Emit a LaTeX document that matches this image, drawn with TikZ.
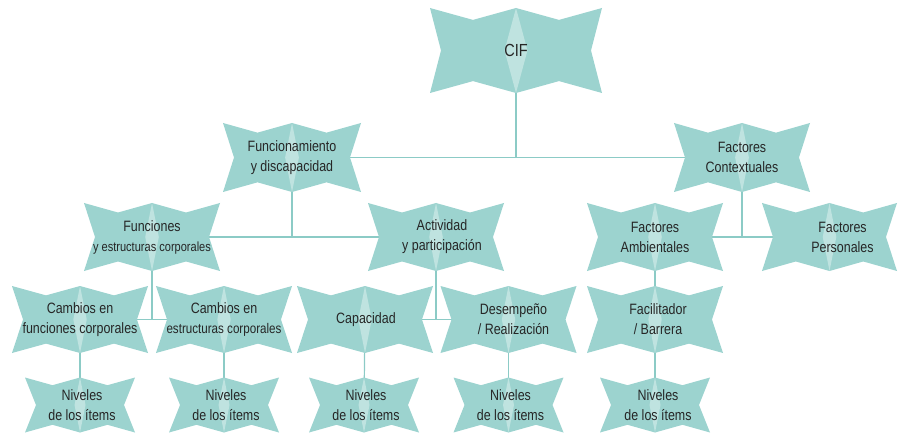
\documentclass[tikz,border=0pt]{standalone}
\usepackage{fontspec}
\setmainfont[FakeStretch=0.83]{Liberation Sans}
\usetikzlibrary{calc,backgrounds}
\definecolor{tealfill}{HTML}{9CD3CF}
\definecolor{tealdia}{HTML}{BFE3E0}
\definecolor{tealline}{HTML}{8CCBC6}
\definecolor{txtgray}{HTML}{262626}
\tikzset{
  boxn/.style={inner sep=0pt, draw=none, fill=none},
  lbl/.style={inner sep=0pt, align=center, text=txtgray, font=\fontsize{15}{20}\selectfont},
  conn/.style={draw=tealline, line width=1.2pt},
}
\newcommand\bowshape[7]{%
  \pgfmathsetmacro\bL{#2-#4/2}\pgfmathsetmacro\bR{#2+#4/2}%
  \pgfmathsetmacro\bT{#3-#5/2}\pgfmathsetmacro\bB{#3+#5/2}%
  \pgfmathsetmacro\bQl{#2-#4/4}\pgfmathsetmacro\bQr{#2+#4/4}%
  \pgfmathsetmacro\bD{0.14*#5}%
  \pgfmathsetmacro\bA{#5>80 ? 0.135*#5 : 0.1*#5}%
  \fill[tealfill] (\bL,\bT) -- (\bQl,\bT+\bD) -- (#2,\bT) -- (\bQr,\bT+\bD) -- (\bR,\bT)
    -- (\bR-11,#3) -- (\bR,\bB) -- (\bQr,\bB-\bD) -- (#2,\bB) -- (\bQl,\bB-\bD)
    -- (\bL,\bB) -- (\bL+11,#3) -- cycle;
  \fill[tealdia] (#2,\bT) -- (#2+\bA,#3) -- (#2,\bB) -- (#2-\bA,#3) -- cycle;
  \node[boxn, minimum width=#4pt, minimum height=#5pt] (#1) at (#2,#3) {};
  \node[lbl] (#1-t) at ([xshift=#6pt]#1.center) {#7};
}
\begin{document}
\begin{tikzpicture}[x=1pt,y=-1pt]
\useasboundingbox (0,0) rectangle (906,433);
% level 1
\bowshape{cif}{516}{50.5}{172}{85}{0}{{\fontsize{17.5}{20}\selectfont CIF}}
% level 2
\bowshape{fun}{292}{157.5}{138}{69}{0}{Funcionamiento\\y discapacidad}
\bowshape{fc}{742}{157.5}{136}{69}{0}{Factores\\Contextuales}
% level 3
\bowshape{fe}{152}{237}{136}{68}{0}{Funciones\\{\fontsize{13.3}{17}\selectfont y estructuras corporales}}
\bowshape{act}{436}{237}{136}{68}{6}{Actividad\\y participación}
\bowshape{amb}{655}{237}{136}{68}{0}{Factores\\Ambientales}
\bowshape{per}{829.5}{237}{135}{68}{13}{Factores\\Personales}
% level 4
\bowshape{cf}{80}{319.5}{136}{67}{0}{Cambios en\\funciones corporales}
\bowshape{ce}{224}{319.5}{136}{67}{0}{Cambios en\\{\fontsize{14}{20}\selectfont estructuras corporales}}
\bowshape{cap}{365}{319.5}{136}{67}{1}{Capacidad}
\bowshape{des}{508.5}{319.5}{136}{67}{5}{Desempeño\\/ Realización}
\bowshape{fac}{655}{319.5}{136}{67}{3}{Facilitador\\/ Barrera}
% level 5
\bowshape{n1}{80}{405}{110}{55}{2}{Niveles\\de los ítems}
\bowshape{n2}{224}{405}{110}{55}{2}{Niveles\\de los ítems}
\bowshape{n3}{364}{405}{110}{55}{2}{Niveles\\de los ítems}
\bowshape{n4}{508.5}{405}{110}{55}{2}{Niveles\\de los ítems}
\bowshape{n5}{655}{405}{110}{55}{3}{Niveles\\de los ítems}
% connectors
\begin{pgfonlayer}{background}
\draw[conn] (cif.center) -- (cif.center |- fun.center);
\draw[conn] (fun.center) -- (fc.center);
\draw[conn] (fun.center) -- (fun.center |- fe.center);
\draw[conn] (fe.center) -- (act.center);
\draw[conn] (fc.center) -- (fc.center |- amb.center);
\draw[conn] (amb.center) -- (per.center);
\draw[conn] (fe.center) -- (fe.center |- cf.center);
\draw[conn] (cf.center) -- (ce.center);
\draw[conn] (act.center) -- (act.center |- cap.center);
\draw[conn] (cap.center) -- (des.center);
\draw[conn] (amb.center) -- (fac.center);
\draw[conn] (cf.center) -- (n1.center);
\draw[conn] (ce.center) -- (n2.center);
\draw[conn] (cap.center) -- (n3.center);
\draw[conn] (des.center) -- (n4.center);
\draw[conn] (fac.center) -- (n5.center);
\end{pgfonlayer}
\end{tikzpicture}
\end{document}
